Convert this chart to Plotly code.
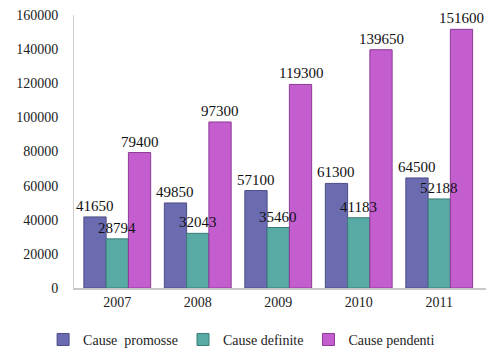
import plotly.graph_objects as go

# Court caseload by year
years = ["2007", "2008", "2009", "2010", "2011"]
promosse = [41650, 49850, 57100, 61300, 64500]
definite = [28794, 32043, 35460, 41183, 52188]
pendenti = [79400, 97300, 119300, 139650, 151600]

series = [
    ("Cause  promosse", promosse, "#6b6bb2", "#4c4c88"),
    ("Cause definite", definite, "#58aaa4", "#3b7c78"),
    ("Cause pendenti", pendenti, "#c45ece", "#8e3a98"),
]

FONT = "Liberation Serif, DejaVu Serif, serif"
BARGAP = 0.17
bar_w = (1 - BARGAP) / len(series)

fig = go.Figure()
annotations = []
for k, (name, vals, fill, edge) in enumerate(series):
    fig.add_trace(go.Bar(
        name=name,
        x=years,
        y=vals,
        marker=dict(color=fill, line=dict(color=edge, width=1)),
    ))
    # value labels drawn as annotations so they stay above neighbouring bars
    offset = (k - (len(series) - 1) / 2) * bar_w
    for i, v in enumerate(vals):
        annotations.append(dict(
            x=i + offset, y=v, xref="x", yref="y",
            text=str(v), showarrow=False,
            yanchor="bottom", xanchor="center", yshift=1,
            font=dict(family=FONT, size=15, color="#111111"),
        ))

fig.update_layout(
    width=504,
    height=351,
    barmode="group",
    bargap=BARGAP,
    bargroupgap=0.0,
    paper_bgcolor="white",
    plot_bgcolor="white",
    margin=dict(l=74, r=18, t=15, b=63, autoexpand=False),
    font=dict(family=FONT, size=14, color="#222222"),
    annotations=annotations,
    legend=dict(
        orientation="h",
        x=-0.075, xanchor="left",
        y=-0.19, yanchor="middle",
        font=dict(family=FONT, size=14, color="#222222"),
        itemwidth=30,
        tracegroupgap=0,
    ),
    xaxis=dict(
        showline=True, linecolor="#c8c8c8", linewidth=2,
        ticks="", tickfont=dict(family=FONT, size=14, color="#222222"),
        showgrid=False,
    ),
    yaxis=dict(
        range=[0, 160000],
        tick0=0, dtick=20000,
        tickformat="d",
        showgrid=False,
        showline=True, linecolor="#d0d0d0", linewidth=1,
        ticks="", ticklabelstandoff=12,
        tickfont=dict(family=FONT, size=14, color="#222222"),
        zeroline=False,
    ),
)

fig.write_html("out.html")
